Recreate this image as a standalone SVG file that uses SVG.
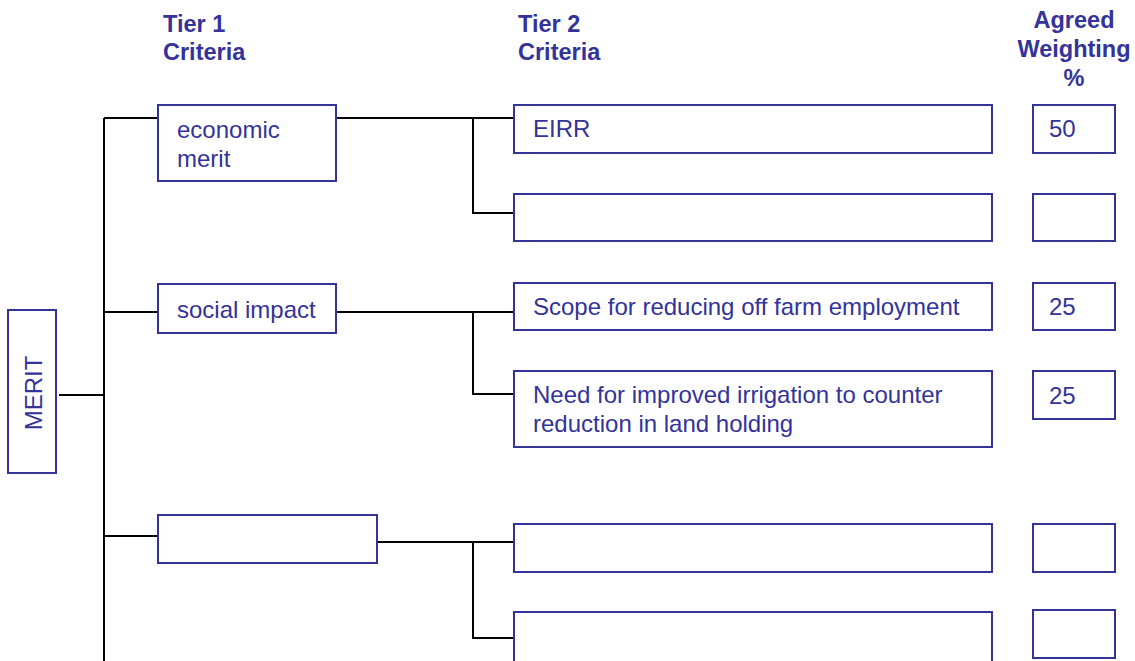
<svg xmlns="http://www.w3.org/2000/svg" width="1135" height="661" viewBox="0 0 1135 661">
<style>
.box{fill:#fff;stroke:#333399;stroke-width:2}
.t{font-family:"Liberation Sans",Arial,sans-serif;font-size:24px;fill:#333399}
.h{font-family:"Liberation Sans",Arial,sans-serif;font-size:23.5px;font-weight:bold;fill:#333399}
.c{fill:none;stroke:#000;stroke-width:2}
</style>
<rect width="1135" height="661" fill="#fff"/>
<g id="headers">
<text class="h" x="163" y="32">Tier 1</text>
<text class="h" x="163" y="60">Criteria</text>
<text class="h" x="518" y="32">Tier 2</text>
<text class="h" x="518" y="60">Criteria</text>
<text class="h" x="1074" y="28" text-anchor="middle">Agreed</text>
<text class="h" x="1074" y="57" text-anchor="middle">Weighting</text>
<text class="h" x="1074" y="86" text-anchor="middle">%</text>
</g>
<g id="connectors">
<path class="c" d="M59 395H104M104 118V661M104 118H158M104 312H158M104 536H158"/>
<path class="c" d="M336 118H514M473 118V213H514"/>
<path class="c" d="M336 312H514M473 312V394H514"/>
<path class="c" d="M377 542H514M473 542V638H514"/>
</g>
<g id="merit"><rect class="box" x="8" y="310" width="48" height="163"/><text class="t" transform="translate(42 393) rotate(-90)" text-anchor="middle">MERIT</text></g>
<g id="economic"><rect class="box" x="158" y="105" width="178" height="76"/><text class="t" x="177" y="138">economic</text><text class="t" x="177" y="167">merit</text></g>
<g id="social"><rect class="box" x="158" y="284" width="178" height="49"/><text class="t" x="177" y="318">social impact</text></g>
<g id="tier1c"><rect class="box" x="158" y="515" width="219" height="48"/></g>
<g id="eirr"><rect class="box" x="514" y="105" width="478" height="48"/><text class="t" x="533" y="137">EIRR</text></g>
<g id="w1"><rect class="box" x="1033" y="105" width="82" height="48"/><text class="t" x="1049" y="137">50</text></g>
<g id="t2b"><rect class="box" x="514" y="194" width="478" height="47"/></g>
<g id="w2"><rect class="box" x="1033" y="194" width="82" height="47"/></g>
<g id="scope"><rect class="box" x="514" y="283" width="478" height="47"/><text class="t" x="533" y="315">Scope for reducing off farm employment</text></g>
<g id="w3"><rect class="box" x="1033" y="283" width="82" height="47"/><text class="t" x="1049" y="315">25</text></g>
<g id="need"><rect class="box" x="514" y="371" width="478" height="76"/><text class="t" x="533" y="403">Need for improved irrigation to counter</text><text class="t" x="533" y="432">reduction in land holding</text></g>
<g id="w4"><rect class="box" x="1033" y="371" width="82" height="48"/><text class="t" x="1049" y="404">25</text></g>
<g id="t2e"><rect class="box" x="514" y="524" width="478" height="48"/></g>
<g id="w5"><rect class="box" x="1033" y="524" width="82" height="48"/></g>
<g id="t2f"><rect class="box" x="514" y="612" width="478" height="52"/></g>
<g id="w6"><rect class="box" x="1033" y="610" width="82" height="48"/></g>
</svg>
